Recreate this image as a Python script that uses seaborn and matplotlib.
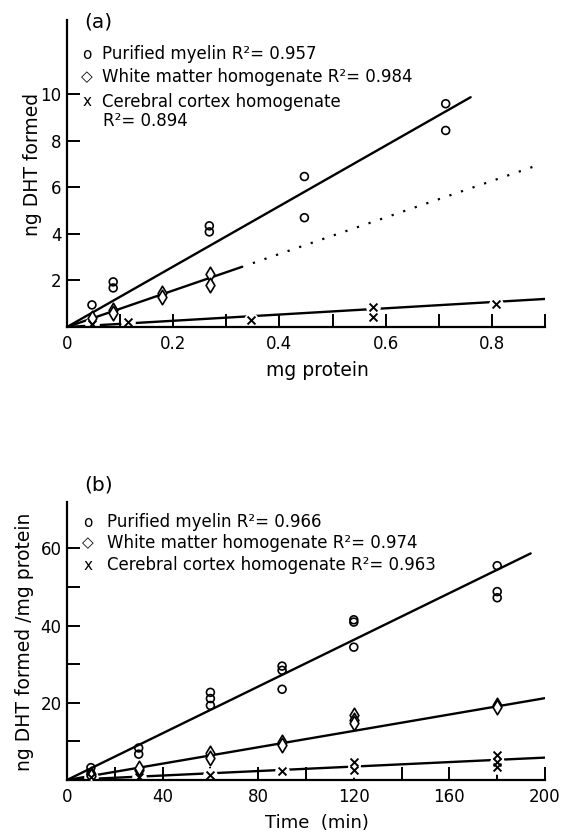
import numpy as np
import pandas as pd
import matplotlib
matplotlib.use("Agg")
import matplotlib.pyplot as plt
import seaborn as sns

# ---- panel (a): product vs protein amount ----
a_myelin_x = [0.047, 0.087, 0.087, 0.268, 0.268, 0.447, 0.447, 0.713, 0.713]
a_myelin_y = [0.95, 1.94, 1.68, 4.35, 4.09, 4.70, 6.47, 9.60, 8.45]
a_white_x = [0.047, 0.087, 0.087, 0.178, 0.178, 0.270, 0.270]
a_white_y = [0.40, 0.73, 0.60, 1.46, 1.30, 2.26, 1.80]
a_cortex_x = [0.047, 0.115, 0.347, 0.577, 0.577, 0.808]
a_cortex_y = [0.12, 0.20, 0.30, 0.86, 0.43, 0.99]

# fitted slopes (through origin) and drawn extents
a_slopes = {"myelin": 13.0, "white": 7.85, "cortex": 1.34}
a_fit_end = {"myelin": 0.76, "white": 0.33, "cortex": 0.90}
a_white_dotted = [0.35, 0.88]
a_r2 = {"myelin": "0.957", "white": "0.984", "cortex": "0.894"}

# ---- panel (b): product per mg protein vs time ----
b_myelin_x = [10, 10, 30, 30, 60, 60, 60, 90, 90, 90, 120, 120, 120, 180, 180, 180]
b_myelin_y = [3.2, 1.6, 8.3, 6.7, 22.7, 21.1, 19.3, 29.5, 28.4, 23.5, 41.5, 40.9, 34.4, 55.5, 48.8, 47.2]
b_white_x = [10, 10, 30, 30, 60, 60, 90, 90, 120, 120, 120, 180, 180]
b_white_y = [1.6, 1.0, 2.5, 3.2, 6.9, 5.6, 9.8, 9.0, 16.8, 15.5, 14.7, 19.5, 18.9]
b_cortex_x = [10, 30, 60, 90, 120, 120, 180, 180, 180]
b_cortex_y = [0.8, 0.8, 1.2, 2.3, 4.6, 2.5, 6.4, 4.6, 3.3]

b_slopes = {"myelin": 0.3025, "white": 0.106, "cortex": 0.029}
b_fit_end = {"myelin": 194, "white": 200, "cortex": 200}
b_r2 = {"myelin": "0.966", "white": "0.974", "cortex": "0.963"}

sns.set_style("ticks")
plt.rcParams["font.family"] = ["DejaVu Sans"]
plt.rcParams["axes.linewidth"] = 1.6
plt.rcParams["text.color"] = "black"
plt.rcParams["axes.labelcolor"] = "black"
plt.rcParams["xtick.color"] = "black"
plt.rcParams["ytick.color"] = "black"
plt.rcParams["axes.edgecolor"] = "black"

fig = plt.figure(figsize=(5.64, 8.34), dpi=100)
ax_a = fig.add_axes([67 / 564, 1 - 327 / 834, 478 / 564, 307 / 834])
ax_b = fig.add_axes([67 / 564, 1 - 780 / 834, 478 / 564, 278 / 834])

LINE_KW = dict(color="black", linewidth=1.7)
FS = 12


def fit_line(ax, slope, x_end, x_start=0.0, **kw):
    xs = np.array([x_start, x_end])
    sns.lineplot(x=xs, y=slope * xs, ax=ax, **{**LINE_KW, **kw})


def draw_points(ax, mx, my, wx, wy, cx, cy):
    # white halo behind the x marks so the cortex line breaks around them
    ax.scatter(cx, cy, s=110, color="white", linewidths=0, zorder=2.2)
    sns.scatterplot(x=mx, y=my, ax=ax, marker="o", s=32, facecolors="none",
                    edgecolor="black", linewidth=1.2, zorder=3)
    sns.scatterplot(x=wx, y=wy, ax=ax, marker="d", s=55, facecolors="white",
                    edgecolor="black", linewidth=1.2, zorder=3)
    sns.scatterplot(x=cx, y=cy, ax=ax, marker="x", s=32, color="black",
                    linewidth=1.4, zorder=3)


def style_axis(ax):
    sns.despine(ax=ax)
    ax.tick_params(which="both", direction="in", length=9.5, width=1.4,
                   labelsize=FS)
    ax.tick_params(axis="x", which="both", pad=6)
    ax.tick_params(axis="y", which="both", pad=4)


def legend_text(ax, rows, mx, tx, extra=None):
    for sym, text, y in rows:
        ax.text(mx, y, sym, transform=ax.transAxes, fontsize=11,
                ha="center", va="center")
        ax.text(tx, y, text, transform=ax.transAxes, fontsize=FS,
                ha="left", va="center")
    if extra:
        ax.text(extra[0], extra[1], extra[2], transform=ax.transAxes,
                fontsize=FS, ha="left", va="center")


# ---------------- panel (a) ----------------
fit_line(ax_a, a_slopes["myelin"], a_fit_end["myelin"])
fit_line(ax_a, a_slopes["white"], a_fit_end["white"])
fit_line(ax_a, a_slopes["white"], a_white_dotted[1], x_start=a_white_dotted[0],
         linestyle=(0, (1, 4.5)), linewidth=1.6)
fit_line(ax_a, a_slopes["cortex"], a_fit_end["cortex"])
draw_points(ax_a, a_myelin_x, a_myelin_y, a_white_x, a_white_y,
            a_cortex_x, a_cortex_y)

ax_a.set_xlim(0, 0.9)
ax_a.set_ylim(0, 13.2)
ax_a.set_xticks([0, 0.2, 0.4, 0.6, 0.8])
ax_a.set_xticklabels(["0", "0.2", "0.4", "0.6", "0.8"])
ax_a.set_xticks([0.1, 0.3, 0.5, 0.7, 0.9], minor=True)
ax_a.set_yticks([2, 4, 6, 8, 10])
style_axis(ax_a)
ax_a.set_xlabel("mg protein", fontsize=13.5)
ax_a.set_ylabel("ng DHT formed", fontsize=13.5)
ax_a.xaxis.set_label_coords(0.523, -0.11)
ax_a.yaxis.set_label_coords(-0.052, 0.53)

ax_a.text(0.036, 0.993, "(a)", transform=ax_a.transAxes, fontsize=14.5,
          ha="left", va="center")
legend_text(ax_a,
            [("o", f"Purified myelin R²= {a_r2['myelin']}", 0.889),
             ("◇", f"White matter homogenate R²= {a_r2['white']}", 0.814),
             ("x", "Cerebral cortex homogenate", 0.733)],
            0.042, 0.073,
            extra=(0.075, 0.671, f"R²= {a_r2['cortex']}"))

# ---------------- panel (b) ----------------
fit_line(ax_b, b_slopes["myelin"], b_fit_end["myelin"])
fit_line(ax_b, b_slopes["white"], b_fit_end["white"])
fit_line(ax_b, b_slopes["cortex"], b_fit_end["cortex"])
draw_points(ax_b, b_myelin_x, b_myelin_y, b_white_x, b_white_y,
            b_cortex_x, b_cortex_y)

ax_b.set_xlim(0, 200)
ax_b.set_ylim(0, 72)
ax_b.set_xticks([0, 40, 80, 120, 160, 200])
ax_b.set_xticks([20, 60, 100, 140, 180], minor=True)
ax_b.set_yticks([20, 40, 60])
ax_b.set_yticks([10, 30, 50], minor=True)
style_axis(ax_b)
ax_b.set_xlabel("Time  (min)", fontsize=13)
ax_b.set_ylabel("ng DHT formed /mg protein", fontsize=13.5)
ax_b.xaxis.set_label_coords(0.523, -0.122)
ax_b.yaxis.set_label_coords(-0.069, 0.496)

ax_b.text(0.036, 1.061, "(b)", transform=ax_b.transAxes, fontsize=14.5,
          ha="left", va="center")
legend_text(ax_b,
            [("o", f"Purified myelin R²= {b_r2['myelin']}", 0.928),
             ("◇", f"White matter homogenate R²= {b_r2['white']}", 0.853),
             ("x", f"Cerebral cortex homogenate R²= {b_r2['cortex']}", 0.773)],
            0.044, 0.084)

fig.savefig("out.png", dpi=100)
